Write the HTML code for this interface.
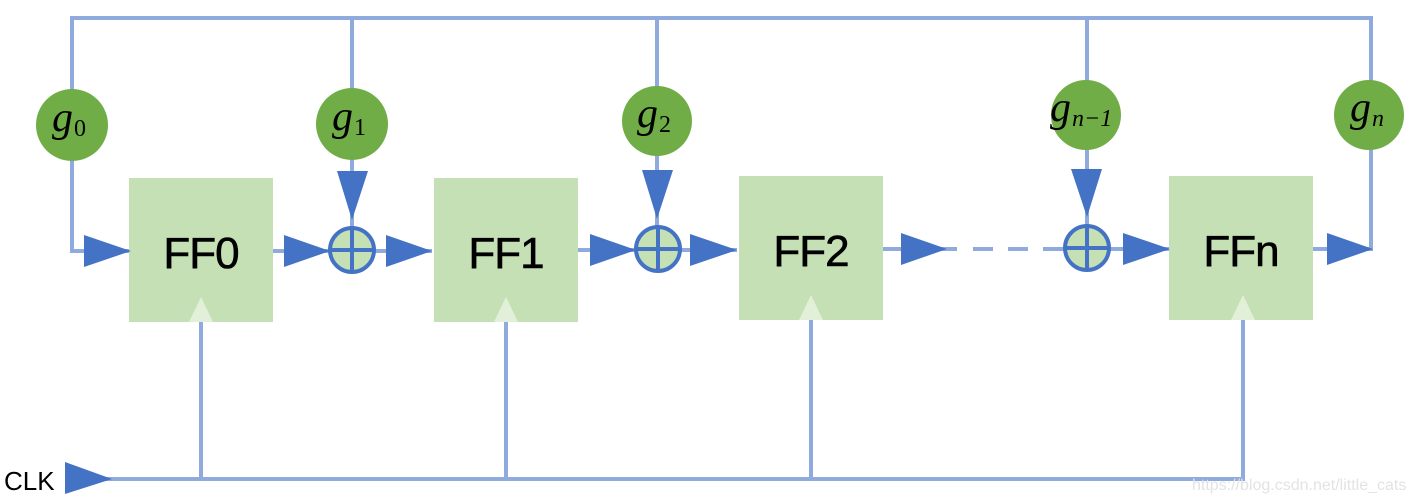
<!DOCTYPE html>
<html><head><meta charset="utf-8"><style>
html,body{margin:0;padding:0;background:#fff;}
svg{display:block;}
.ff{font-family:"Liberation Sans",sans-serif;font-size:44px;fill:#000;text-anchor:middle;letter-spacing:-1px;stroke:#000;stroke-width:0.6px;}
.g{font-family:"Liberation Serif",serif;font-style:italic;font-size:42px;fill:#000;}
.sub{font-family:"Liberation Serif",serif;font-size:24px;fill:#000;font-style:normal;}
</style></head><body>
<svg width="1413" height="502" viewBox="0 0 1413 502" xmlns="http://www.w3.org/2000/svg">
<g stroke="#8faadc" stroke-width="4" fill="none">
  <polyline points="72,125 72,18 1371,18 1371,115"/>
  <line x1="352" y1="18" x2="352" y2="230"/>
  <line x1="657" y1="18" x2="657" y2="230"/>
  <line x1="1087" y1="18" x2="1087" y2="230"/>
  <polyline points="72,125 72,251 131,251"/>
  <line x1="273" y1="251" x2="432" y2="251"/>
  <line x1="578" y1="250" x2="737" y2="250"/>
  <line x1="883" y1="249" x2="957" y2="249"/>
  <line x1="973" y1="249" x2="1063" y2="249" stroke-dasharray="20,15"/>
  <line x1="1063" y1="249" x2="1170" y2="249"/>
  <polyline points="1313,249 1371,249 1371,115"/>
  <line x1="201" y1="320" x2="201" y2="479"/>
  <line x1="506" y1="320" x2="506" y2="479"/>
  <line x1="811" y1="318" x2="811" y2="479"/>
  <line x1="1243" y1="318" x2="1243" y2="479"/>
  <line x1="100" y1="479" x2="1245" y2="479"/>
</g>
<g fill="#c5e0b4">
  <rect x="129" y="178" width="144" height="144"/>
  <rect x="434" y="178" width="144" height="144"/>
  <rect x="739" y="176" width="144" height="144"/>
  <rect x="1169" y="176" width="144" height="144"/>
</g>
<g fill="#e2f0d9">
  <polygon points="189,322 213,322 201,297"/>
  <polygon points="494,322 518,322 506,297"/>
  <polygon points="799,320 823,320 811,295"/>
  <polygon points="1231,320 1255,320 1243,295"/>
</g>
<text class="ff" x="201" y="268">FF0</text>
<text class="ff" x="506" y="268">FF1</text>
<text class="ff" x="811" y="266">FF2</text>
<text class="ff" x="1241" y="266">FFn</text>
<g fill="#70ad47">
  <circle cx="72" cy="125" r="36"/>
  <circle cx="352" cy="124" r="36"/>
  <circle cx="657" cy="121" r="35"/>
  <circle cx="1086" cy="115" r="35"/>
  <circle cx="1369" cy="115" r="35"/>
</g>
<text class="g" x="52" y="131">g<tspan class="sub" dx="1" dy="5">0</tspan></text>
<text class="g" x="332" y="130">g<tspan class="sub" dx="1" dy="5">1</tspan></text>
<text class="g" x="637" y="127">g<tspan class="sub" dx="1" dy="5">2</tspan></text>
<text class="g" x="1050" y="121">g<tspan class="sub" dx="1" dy="5" style="font-style:italic">n−1</tspan></text>
<text class="g" x="1350" y="121">g<tspan class="sub" dx="1" dy="5" style="font-style:italic">n</tspan></text>
<g fill="#c5e0b4" stroke="#4472c4" stroke-width="4">
  <circle cx="352" cy="250" r="22"/>
  <circle cx="658" cy="249" r="22"/>
  <circle cx="1087" cy="248" r="22"/>
</g>
<g stroke="#4472c4" stroke-width="4">
  <line x1="330" y1="250" x2="374" y2="250"/><line x1="352" y1="228" x2="352" y2="272"/>
  <line x1="636" y1="249" x2="680" y2="249"/><line x1="658" y1="227" x2="658" y2="271"/>
  <line x1="1065" y1="248" x2="1109" y2="248"/><line x1="1087" y1="226" x2="1087" y2="270"/>
</g>
<g fill="#4472c4">
  <polygon points="84,235 84,267 131,251"/>
  <polygon points="284,235 284,267 330,251"/>
  <polygon points="386,235 386,267 432,251"/>
  <polygon points="590,234 590,266 636,250"/>
  <polygon points="690,234 690,266 737,250"/>
  <polygon points="901,233 901,265 947,249"/>
  <polygon points="1123,233 1123,265 1170,249"/>
  <polygon points="1327,233 1327,265 1373,249"/>
  <polygon points="337,171 368,171 352,220"/>
  <polygon points="642,170 673,170 657,219"/>
  <polygon points="1071,169 1102,169 1087,217"/>
  <polygon points="65,462 65,494 112,479"/>
</g>
<text x="4" y="490" style="font-family:'Liberation Sans',sans-serif;font-size:26px;fill:#000">CLK</text>
<text x="1192" y="490" style="font-family:'Liberation Sans',sans-serif;font-size:16px;fill:#e3e3e3">https://blog.csdn.net/little_cats</text>
</svg>
</body></html>
